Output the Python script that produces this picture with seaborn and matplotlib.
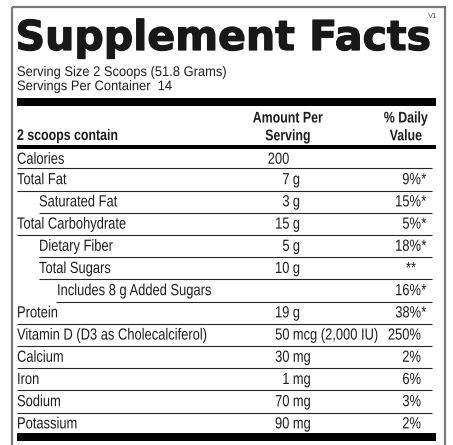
import matplotlib.pyplot as plt
import matplotlib.patheffects as pe
import seaborn as sns
from matplotlib.patches import Rectangle
from matplotlib.transforms import Affine2D

# label content
title = "Supplement Facts"
serving_lines = ["Serving Size 2 Scoops (51.8 Grams)", "Servings Per Container  14"]
header_left = "2 scoops contain"
header_amount = ["Amount Per", "Serving"]
header_dv = ["% Daily", "Value"]

nutrients = [
    "Calories", "Total Fat", "Saturated Fat", "Total Carbohydrate",
    "Dietary Fiber", "Total Sugars", "Includes 8 g Added Sugars", "Protein",
    "Vitamin D (D3 as Cholecalciferol)", "Calcium", "Iron", "Sodium", "Potassium",
]
indent_levels = [0, 0, 1, 0, 1, 1, 2, 0, 0, 0, 0, 0, 0]
amount_numbers = ["200", "7", "3", "15", "5", "10", "", "19", "50", "30", "1", "70", "90"]
amount_units = ["", "g", "g", "g", "g", "g", "", "g", "mcg (2,000 IU)", "mg", "mg", "mg", "mg"]
daily_values = ["", "9%", "15%", "5%", "18%", "", "16%", "38%", "250%", "2%", "6%", "3%", "2%"]
daily_marks = ["", "*", "*", "*", "*", "**", "*", "*", "", "", "", "", ""]
footnote = "Percent Daily Values are based on a 2,000 calorie diet."

sns.set_theme(style="white")
plt.rcParams["font.family"] = ["Liberation Sans", "DejaVu Sans"]

INK = "#1e1e1e"
W, H = 453, 445
fig = plt.figure(figsize=(W / 100, H / 100), dpi=100)
ax = fig.add_axes([0, 0, 1, 1])
ax.set_xlim(0, W)
ax.set_ylim(H, 0)
ax.axis("off")


class TallGlyphs(pe.AbstractPathEffect):
    """Stretch glyphs upward from the baseline to mimic a condensed face."""

    def __init__(self, base_y, sy):
        super().__init__()
        self.base_y = base_y
        self.sy = sy

    def draw_path(self, renderer, gc, tpath, affine, rgbFace=None):
        stretch = Affine2D().translate(0, -self.base_y).scale(1, self.sy).translate(0, self.base_y)
        renderer.draw_path(gc, tpath, affine + stretch, rgbFace)


def label(x, y, s, ha="left", bold=False, size=9.3, sy=1.25, color=INK):
    base_disp = ax.transData.transform((x, y))[1]
    ax.text(x, y, s, fontsize=size, fontweight="bold" if bold else "normal",
            color=color, ha=ha, va="baseline",
            path_effects=[TallGlyphs(base_disp, sy)])


# outer grey frame
ax.add_patch(Rectangle((11.5, 6.5), 433, 460, fill=False, edgecolor="#7a7a7a", lw=1.6))

LEFT, RIGHT = 17, 436

ax.text(15.5, 50, title, fontsize=29.6, fontweight="bold", family="DejaVu Sans",
        color="#181818", va="baseline", ha="left",
        path_effects=[pe.withStroke(linewidth=0.9, foreground="#181818")])
ax.text(428, 18, "V1", fontsize=5.5, color="#555555", va="baseline", ha="left")

for i, line in enumerate(serving_lines):
    label(LEFT, 76 + 14.2 * i, line, sy=1.08)

# heavy bars
for top, h in [(98, 8), (145, 4), (433, 8)]:
    ax.add_patch(Rectangle((LEFT, top), RIGHT - LEFT, h, color="black", lw=0))

label(LEFT, 140, header_left, bold=True, size=8.9)
for j, (a, d) in enumerate(zip(header_amount, header_dv)):
    label(288, 122.5 + 17.8 * j, a, ha="center", bold=True, size=8.9)
    label(406, 122.5 + 17.8 * j, d, ha="center", bold=True, size=8.9)

indent_x = [17, 39, 56]
first_rule, pitch = 168.3, 22.2
for i, name in enumerate(nutrients):
    rule_y = first_rule + pitch * i
    base = rule_y - (4.5 if i == 0 else 6.3)
    x0 = indent_x[indent_levels[i]]
    label(x0 + (1 if indent_levels[i] == 2 else 0), base, name)
    if amount_numbers[i]:
        label(289.5, base, amount_numbers[i], ha="right")
    if amount_units[i]:
        label(292.8, base, amount_units[i])
    if daily_values[i]:
        label(421, base, daily_values[i], ha="right")
        if daily_marks[i]:
            label(421.3, base, daily_marks[i])
    elif daily_marks[i]:
        label(411, base, daily_marks[i], ha="center")
    if i < len(nutrients) - 1:
        ax.hlines(rule_y, x0, 432, color="#262626", lw=0.8)

# footnote sits just past the bottom edge, only its tops show
label(LEFT, 457, footnote, color="#a8a8a8")

sns.despine(ax=ax, left=True, bottom=True)
fig.savefig("out.png", dpi=100)
